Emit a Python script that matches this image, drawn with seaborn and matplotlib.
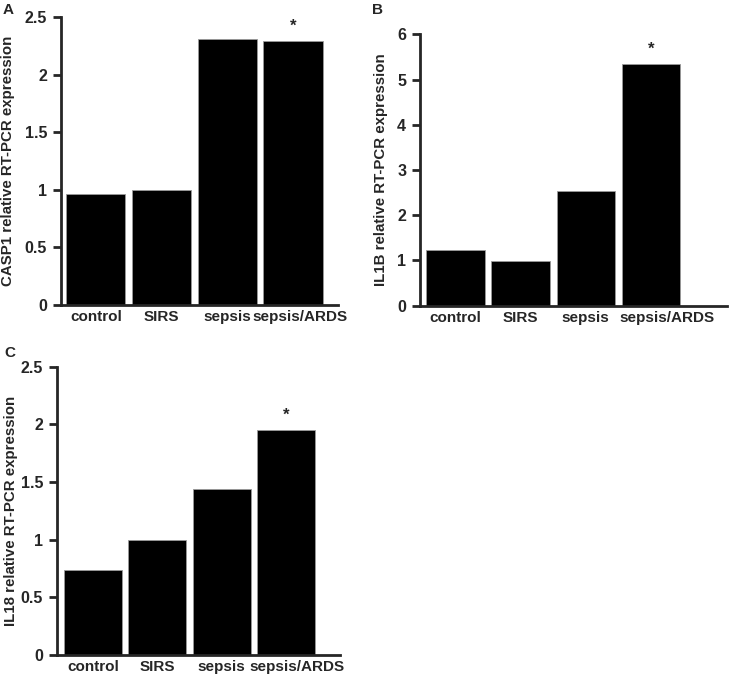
import matplotlib
matplotlib.use("Agg")
import matplotlib.pyplot as plt
import matplotlib.transforms as mtransforms
import pandas as pd
import seaborn as sns

# Data
groups = ["control", "SIRS", "sepsis", "sepsis/ARDS"]
casp1 = [0.96, 1.0, 2.31, 2.29]
il1b = [1.22, 0.99, 2.53, 5.35]
il18 = [0.74, 1.0, 1.44, 1.95]
star_group = "sepsis/ARDS"

sns.set_style("ticks")
plt.rcParams["font.family"] = ["Liberation Sans", "DejaVu Sans"]
plt.rcParams["font.weight"] = "bold"
plt.rcParams["axes.labelweight"] = "bold"

W, H = 754, 676


def bar_panel(fig, rect, values, ylabel, yticks, yticklabels, xlim,
              letter, letter_pos, label_right, last_shift):
    ax = fig.add_axes(rect)
    df = pd.DataFrame({"group": groups, "value": values})
    sns.barplot(data=df, x="group", y="value", color="black", width=0.9,
                edgecolor="#9a9a9a", linewidth=0.6, saturation=1, ax=ax)
    ax.set_ylim(yticks[0], yticks[-1])
    ax.set_xlim(*xlim)
    ax.set_yticks(yticks)
    ax.set_yticklabels(yticklabels, fontsize=11.5, fontweight="bold")
    ax.set_xticks(range(len(groups)))
    ax.set_xticklabels(groups, fontsize=11, fontweight="bold")
    ax.tick_params(axis="x", length=0, pad=3.5)
    ax.tick_params(axis="y", length=6, width=2, pad=4)
    # last category label sits a little right of its bar in the original
    lab = ax.get_xticklabels()[-1]
    lab.set_transform(lab.get_transform() + mtransforms.ScaledTranslation(
        last_shift / 100, 0, fig.dpi_scale_trans))
    ax.set_xlabel("")
    ax.set_ylabel(ylabel, fontsize=10.8, fontweight="bold")
    y_mid = rect[1] + rect[3] / 2
    ax.yaxis.set_label_coords(label_right / W, y_mid, transform=fig.transFigure)
    sns.despine(ax=ax)
    for s in ("left", "bottom"):
        ax.spines[s].set_linewidth(2)
    i = groups.index(star_group)
    ax.annotate("*", (i, values[i]), xytext=(0, 5), textcoords="offset points",
                ha="center", va="bottom", fontsize=12, fontweight="bold")
    fig.text(letter_pos[0], letter_pos[1], letter, fontsize=11,
             fontweight="bold", ha="left", va="top")
    return ax


fig = plt.figure(figsize=(W / 100, H / 100), dpi=100)

bar_panel(fig, [0.0809, 0.5488, 0.3671, 0.4261], casp1,
          "CASP1 relative RT-PCR expression",
          [0, 0.5, 1, 1.5, 2, 2.5], ["0", "0.5", "1", "1.5", "2", "2.5"],
          (-0.53, 3.68), "A", (0.004, 0.995), 15, 7)

bar_panel(fig, [0.557, 0.5478, 0.407, 0.4015], il1b,
          "IL1B relative RT-PCR expression",
          [0, 1, 2, 3, 4, 5, 6], ["0", "1", "2", "3", "4", "5", "6"],
          (-0.55, 4.17), "B", (0.494, 0.995), 388, 16)

bar_panel(fig, [0.0756, 0.0311, 0.3754, 0.4265], il18,
          "IL18 relative RT-PCR expression",
          [0, 0.5, 1, 1.5, 2, 2.5], ["0", "0.5", "1", "1.5", "2", "2.5"],
          (-0.56, 3.84), "C", (0.006, 0.488), 18, 11)

fig.savefig("out.png", dpi=100)
